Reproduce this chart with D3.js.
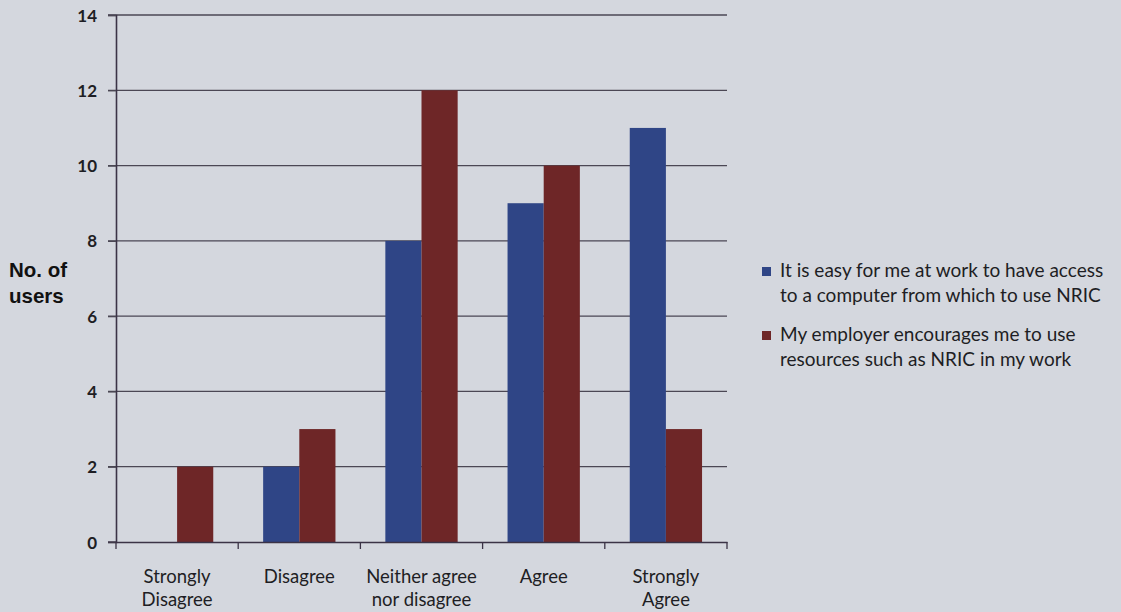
<!DOCTYPE html>
<html>
<head>
<meta charset="utf-8">
<script src="https://cdn.jsdelivr.net/npm/d3@7"></script>
<style>
  html, body { margin: 0; padding: 0; background: #d4d7de; }
  svg { display: block; }
</style>
</head>
<body>
<svg id="chart" width="1121" height="612"></svg>
<script>
// Response categories (two-line labels)
const categories = ["Strongly Disagree", "Disagree", "Neither agree nor disagree", "Agree", "Strongly Agree"];
const categoryLines = [["Strongly", "Disagree"], ["Disagree"], ["Neither agree", "nor disagree"], ["Agree"], ["Strongly", "Agree"]];

// Series names and counts of users per category
const seriesNames = [
  "It is easy for me at work to have access to a computer from which to use NRIC",
  "My employer encourages me to use resources such as NRIC in my work"
];
const legendLines = [
  ["It is easy for me at work to have access", "to a computer from which to use NRIC"],
  ["My employer encourages me to use", "resources such as NRIC in my work"]
];
const accessValues = [0, 2, 8, 9, 11];
const encourageValues = [2, 3, 12, 10, 3];

const yTicks = [0, 2, 4, 6, 8, 10, 12, 14];
const colors = ["#2f4586", "#6e2627"];

const svg = d3.select("#chart");
const plot = { left: 116, right: 727, top: 15, bottom: 542 };
const labelFont = "Lato, 'Open Sans', sans-serif";

const x0 = d3.scaleBand().domain(categories).range([plot.left, plot.right]).padding(0);
const x1 = d3.scaleBand().domain(seriesNames).range([0, x0.bandwidth()]).paddingOuter(0.69).paddingInner(0);
const y = d3.scaleLinear().domain([0, 14]).range([plot.bottom, plot.top]);

const rows = categories.map((c, i) => ({ cat: c, vals: [accessValues[i], encourageValues[i]] }));

// Horizontal gridlines with short ticks left of the axis
svg.append("g")
  .selectAll("line")
  .data(yTicks.filter(t => t > 0))
  .join("line")
  .attr("x1", plot.left - 8).attr("x2", plot.right)
  .attr("y1", d => y(d)).attr("y2", d => y(d))
  .attr("stroke", "#4b4754").attr("stroke-width", 1.3);

// Bars
const groups = svg.append("g").selectAll("g")
  .data(rows).join("g")
  .attr("transform", d => `translate(${x0(d.cat)},0)`);

groups.selectAll("rect")
  .data(d => d.vals.map((v, k) => ({ v, k })))
  .join("rect")
  .attr("x", d => x1(seriesNames[d.k]))
  .attr("width", x1.bandwidth())
  .attr("y", d => y(d.v))
  .attr("height", d => y(0) - y(d.v))
  .attr("fill", d => colors[d.k]);

// Y axis
const yAxis = d3.axisLeft(y).tickValues(yTicks).tickSize(8).tickFormat(d3.format("d"));
const gy = svg.append("g").attr("transform", `translate(${plot.left},0)`).call(yAxis);
gy.select(".domain").attr("stroke", "#3b3346").attr("stroke-width", 1.6);
gy.selectAll(".tick line").attr("stroke", "#4b4754").attr("stroke-width", 1.3);
gy.selectAll(".tick text")
  .attr("font-family", labelFont).attr("font-size", 17).attr("font-weight", 700)
  .attr("fill", "#1e1e24").attr("x", -19).attr("dy", "0.36em");

// X axis
const xAxis = d3.axisBottom(x0).tickSize(0).tickFormat("");
const gx = svg.append("g").attr("transform", `translate(0,${plot.bottom})`).call(xAxis);
gx.select(".domain").attr("stroke", "#3b3346").attr("stroke-width", 1.6);
gx.append("line").attr("x1", plot.left - 8).attr("x2", plot.left).attr("stroke", "#3b3346").attr("stroke-width", 1.3);
// Category boundary ticks
gx.selectAll(".bound")
  .data(categories.map(c => x0(c)).concat([plot.right]))
  .join("line")
  .attr("class", "bound")
  .attr("x1", d => d).attr("x2", d => d)
  .attr("y1", 0).attr("y2", 7)
  .attr("stroke", "#3b3346").attr("stroke-width", 1.3);

// Category labels
const catLabels = svg.append("g").selectAll("text")
  .data(categories).join("text")
  .attr("x", d => x0(d) + x0.bandwidth() / 2)
  .attr("y", 583)
  .attr("text-anchor", "middle")
  .attr("font-family", labelFont).attr("font-size", 18.5)
  .attr("fill", "#1e1e24");
catLabels.selectAll("tspan")
  .data((d, i) => categoryLines[i])
  .join("tspan")
  .attr("x", function () { return this.parentNode.getAttribute("x"); })
  .attr("dy", (d, j) => j === 0 ? 0 : 23)
  .text(d => d);

// Y axis title
svg.append("text")
  .attr("x", 9).attr("y", 277)
  .attr("font-family", "'Liberation Sans', Arial, sans-serif")
  .attr("font-size", 20.5).attr("font-weight", 700).attr("fill", "#111")
  .selectAll("tspan").data(["No. of", "users"]).join("tspan")
  .attr("x", 9).attr("dy", (d, i) => i === 0 ? 0 : 26)
  .text(d => d);

// Legend
const legend = svg.append("g");
const legendBase = [277, 341];
seriesNames.forEach((name, k) => {
  legend.append("rect")
    .attr("x", 762).attr("y", legendBase[k] - 10)
    .attr("width", 9).attr("height", 9)
    .attr("fill", colors[k]);
  legend.append("text")
    .attr("font-family", labelFont).attr("font-size", 19).attr("fill", "#1e1e24")
    .selectAll("tspan").data(legendLines[k]).join("tspan")
    .attr("x", 780).attr("y", (d, j) => legendBase[k] + j * 24.5)
    .text(d => d);
});
</script>
</body>
</html>
